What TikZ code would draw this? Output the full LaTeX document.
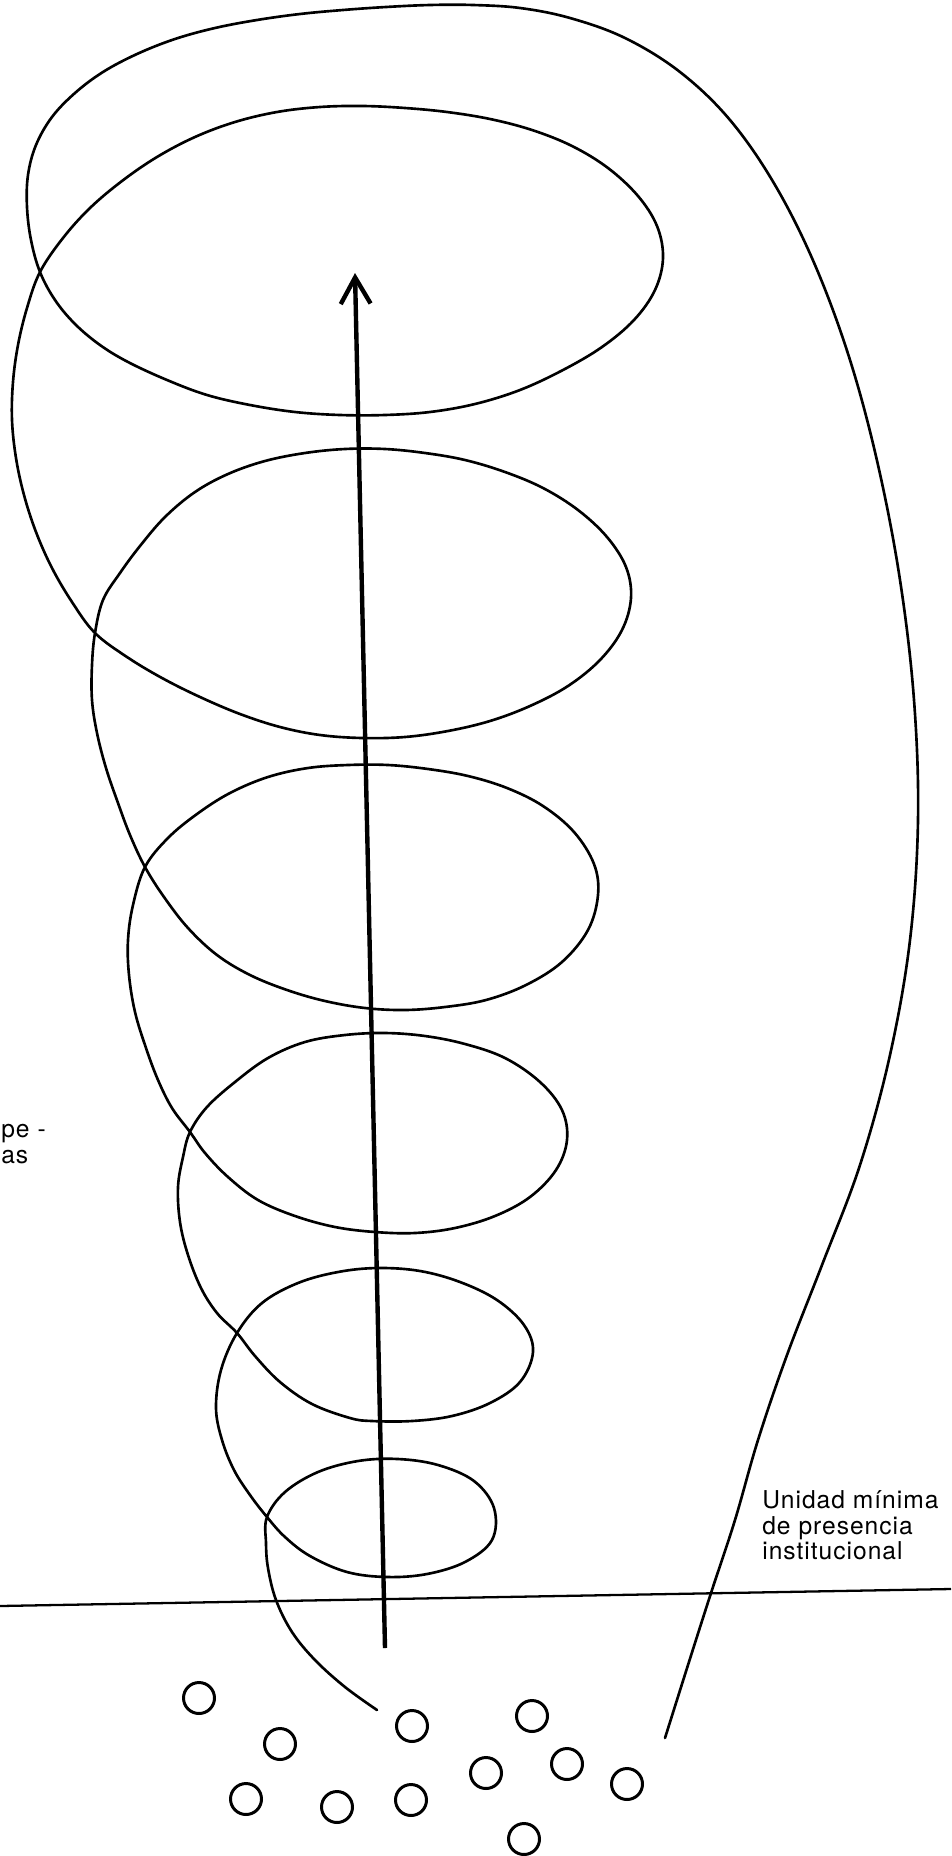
\documentclass[tikz,border=0pt]{standalone}
\usepackage{fontspec}
\newfontfamily\labfont[LetterSpace=4]{TeX Gyre Heros}
\usetikzlibrary{arrows.meta}
\begin{document}
\begin{tikzpicture}[x=0.02cm,y=-0.02cm,
  spiral/.style={line width=1.5pt, line cap=round, line join=round},
  axis/.style={line width=2.5pt, -{Straight Barb[length=15pt,width=17pt]}},
  ground/.style={line width=1.3pt},
  unit/.style={circle, draw, line width=1.7pt, minimum size=0.62cm, inner sep=0pt},
  lab/.style={font=\labfont\fontsize{14}{15}\selectfont, inner sep=0pt, anchor=base west}]
\useasboundingbox (0,0) rectangle (951,1856);
% spiral
\draw[spiral] plot[smooth, tension=0.6] coordinates {
 (377,1710) (345,1687) (315,1660) (292,1632) (276,1600) (268,1568) (266,1543) (267,1517)
 (285,1492) (318,1472) (358,1461) (398,1459) (438,1465) (474,1481) (494,1508) (492,1540)
 (465,1562) (427,1574) (387,1577) (347,1572) (310,1556) (285,1537) (267,1517)
 (250,1495) (234,1470) (222,1440) (216,1408) (221,1370) (237,1333)
 (262,1303) (298,1283) (338,1272) (378,1268) (420,1271) (460,1282) (497,1300) (524,1325)
 (533,1352) (520,1382) (490,1403) (452,1416) (412,1421) (372,1421) (350,1418) (312,1404)
 (280,1382) (255,1356) (237,1333)
 (217,1313) (201,1288) (188,1255) (180,1222) (178,1187) (183,1157) (190,1132)
 (207,1107) (235,1082) (268,1058) (305,1042) (345,1035) (385,1033) (425,1036) (465,1044)
 (505,1058) (540,1082) (562,1110) (567,1140) (556,1170) (530,1197) (495,1216) (455,1228)
 (415,1233) (375,1232) (335,1227) (295,1216) (258,1200) (228,1177) (205,1153) (190,1132)
 (172,1108) (158,1080) (146,1048) (135,1012) (129,975) (128,940) (133,905) (145,867)
 (168,838) (197,814) (230,793) (268,777) (308,768) (348,765) (388,765) (428,769) (468,776)
 (507,788) (543,806) (574,832) (594,864) (598,895) (588,930) (562,962) (526,985) (486,1000)
 (445,1007) (405,1010) (365,1008) (325,1001) (287,990) (250,975) (217,955) (188,928)
 (164,897) (145,867)
 (130,835) (118,803) (106,768) (97,733) (92,700) (92,665) (95,633)
 (103,600) (120,573) (140,546) (165,517) (195,492) (228,474) (265,461) (305,453) (345,449)
 (385,449) (425,453) (465,460) (505,472) (543,488) (578,510) (607,537) (626,567) (631,598)
 (622,630) (600,660) (568,686) (530,706) (490,721) (448,731) (405,737) (362,738) (320,735)
 (280,727) (240,714) (200,697) (162,678) (127,657) (95,633)
 (72,602) (52,568) (36,532) (24,495) (16,458) (12,420) (13,382) (18,345) (27,308) (40,272)
 (63,238) (90,208) (122,181) (157,157) (195,137) (235,122) (277,112) (320,107) (363,106)
 (405,108) (447,112) (490,119) (532,130) (572,146) (608,168) (638,196) (657,226) (663,258)
 (655,290) (634,320) (602,347) (563,370) (520,390) (475,404) (430,412) (385,415) (340,415)
 (295,412) (250,405) (207,395) (167,380) (128,362) (100,345) (75,324) (55,300) (40,272)
 (31,240) (27,207) (28,175) (36,145) (52,117) (75,93) (103,72) (137,54) (175,39) (215,28)
 (257,20) (300,14) (343,10) (386,7) (430,5) (473,5) (520,8) (570,18) (625,38) (680,72)
 (730,120) (775,185) (815,265) (850,360) (878,465) (900,580) (914,700) (918,820) (910,940)
 (890,1055) (860,1165) (822,1265) (787,1355) (758,1440) (735,1520) (711,1593) (688,1665)
 (665,1738)
};
% axis arrow
\coordinate (abot) at (385,1648);
\coordinate (atop) at (355,273);
\draw[axis] (abot) -- (atop);
% ground line
\coordinate (gl) at (0,1606);
\coordinate (gr) at (951,1589);
\draw[ground] (gl) -- (gr);
% units
\node[unit] (u1) at (199,1698) {};
\node[unit] (u2) at (280,1744) {};
\node[unit] (u3) at (246,1799) {};
\node[unit] (u4) at (337,1807) {};
\node[unit] (u5) at (412,1726) {};
\node[unit] (u6) at (411,1800) {};
\node[unit] (u7) at (532,1716) {};
\node[unit] (u8) at (486,1773) {};
\node[unit] (u9) at (567,1764) {};
\node[unit] (u10) at (627,1784) {};
\node[unit] (u11) at (524,1839) {};
% labels
\node[lab] (t1) at (762,1508) {Unidad mínima};
\node[lab] (t2) at (762,1534) {de presencia};
\node[lab] (t3) at (762,1559) {institucional};
\node[lab] (p1) at (1,1137) {pe -};
\node[lab] (p2) at (1,1163) {as};
\end{tikzpicture}
\end{document}
